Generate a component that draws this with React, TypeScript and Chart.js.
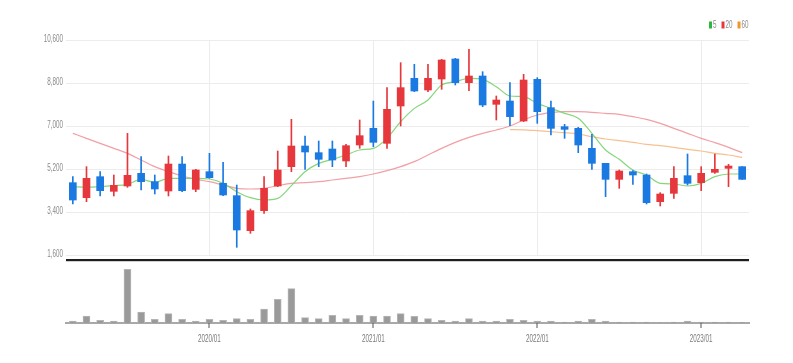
import React, { useEffect, useRef } from "react";
import { Chart, registerables } from "chart.js";

Chart.register(...registerables);

const months: string[] = [
  "2019/03", "2019/04", "2019/05", "2019/06", "2019/07", "2019/08", "2019/09", "2019/10", "2019/11", "2019/12",
  "2020/01", "2020/02", "2020/03", "2020/04", "2020/05", "2020/06", "2020/07", "2020/08", "2020/09", "2020/10", "2020/11", "2020/12",
  "2021/01", "2021/02", "2021/03", "2021/04", "2021/05", "2021/06", "2021/07", "2021/08", "2021/09", "2021/10", "2021/11", "2021/12",
  "2022/01", "2022/02", "2022/03", "2022/04", "2022/05", "2022/06", "2022/07", "2022/08", "2022/09", "2022/10", "2022/11", "2022/12",
  "2023/01", "2023/02", "2023/03", "2023/04",
];

const opens: number[] = [
  4628, 4000, 4879, 4265, 4488, 5019, 4670, 4279, 5409, 4349,
  5088, 4600, 4084, 2619, 3456, 4488, 5298, 6163, 5884, 6037, 5535, 6205,
  6902, 6274, 7837, 8995, 8507, 8967, 9805, 8814, 9093, 7907, 8046, 7209,
  8953, 7767, 6972, 6902, 6065, 5437, 4767, 5088, 4949, 3833, 4181, 4921,
  4628, 5060, 5228, 5298,
];
const highs: number[] = [
  4879, 5298, 5088, 4949, 6693, 5716, 4949, 5744, 5716, 5186,
  5856, 5479, 4530, 3526, 4879, 5953, 7279, 6581, 6372, 6372, 6233, 7251,
  8046, 8605, 9651, 9581, 9581, 9791, 9833, 10209, 9274, 8256, 8814, 9163,
  9023, 8046, 7070, 6944, 6651, 5437, 5158, 5130, 4991, 4209, 5298, 5828,
  5298, 5828, 5395, 5298,
];
const lows: number[] = [
  3735, 3833, 4070, 4070, 4433, 4321, 4154, 4070, 4251, 4251,
  4809, 4084, 1921, 2507, 3344, 4460, 5088, 5186, 5298, 5298, 5298, 6065,
  6135, 6065, 7000, 8437, 8437, 8535, 8716, 8479, 7809, 7251, 7014, 7181,
  7112, 6623, 6484, 5884, 5186, 4042, 4391, 4558, 3735, 3651, 3972, 4530,
  4293, 5019, 4460, 4767,
];
const closes: number[] = [
  3902, 4809, 4293, 4516, 4935, 4670, 4363, 5409, 4293, 5158,
  4837, 4112, 2647, 3456, 4391, 5158, 6163, 5912, 5605, 5577, 6177, 6595,
  6316, 7698, 8605, 8465, 8995, 9763, 8814, 9093, 7879, 8088, 7391, 8925,
  7600, 6902, 6860, 6205, 5437, 4767, 5116, 4949, 3791, 4153, 4809, 4600,
  5019, 5186, 5325, 4767,
];

const ma5: number[] = [
  4461, 4433, 4461, 4502, 4558, 4767, 4642, 4809, 4809, 4809,
  4781, 4600, 4251, 4000, 3902, 3972, 4502, 5088, 5437, 5605, 5786, 5995,
  6065, 6484, 7181, 7739, 8088, 8716, 8856, 8995, 8953, 8646, 8256, 8228,
  7949, 7739, 7530, 7321, 6693, 5995, 5605, 5158, 4949, 4600, 4572, 4488,
  4600, 4879, 4991, 4991,
];
const ma20: number[] = [
  6693, 6484, 6274, 6065, 5856, 5577, 5298, 5088, 4907, 4767,
  4670, 4530, 4391, 4363, 4391, 4502, 4600, 4628, 4670, 4739, 4809, 4879,
  4991, 5130, 5298, 5507, 5786, 6065, 6316, 6526, 6693, 6833, 7000, 7251,
  7460, 7558, 7600, 7600, 7572, 7530, 7488, 7390, 7279, 7112, 6902, 6693,
  6484, 6302, 6107, 5884,
];
const ma60: (number | null)[] = [
  null, null, null, null, null, null, null, null, null, null,
  null, null, null, null, null, null, null, null, null, null, null, null,
  null, null, null, null, null, null, null, null, null, null, 6850, 6840,
  6805, 6763, 6721, 6665, 6553, 6456, 6386, 6316, 6233, 6177, 6107, 6023,
  5954, 5856, 5786, 5688,
];

const volumes: number[] = [
  60000, 210000, 80000, 60000, 1610000, 330000, 110000, 280000, 110000, 60000,
  110000, 80000, 130000, 110000, 420000, 710000, 1030000, 160000, 130000, 230000, 130000, 230000,
  210000, 210000, 280000, 200000, 130000, 80000, 60000, 130000, 60000, 60000, 110000, 80000,
  60000, 60000, 30000, 60000, 110000, 60000, 30000, 30000, 30000, 10000, 30000, 60000,
  30000, 30000, 30000, 20000,
];

const yTicks: number[] = [1600, 3400, 5200, 7000, 8800, 10600];
const legendItems: string[] = ["5", "20", "60"];

const RED = "#e6383c";
const BLUE = "#1b7ae2";
const FONT = "10.5px 'Liberation Sans', Arial, sans-serif";
const SQX = 0.6;

function drawSquashed(ctx: CanvasRenderingContext2D, text: string, x: number, y: number, align: "left" | "right" | "center", color: string) {
  ctx.save();
  ctx.font = FONT;
  ctx.fillStyle = color;
  ctx.textBaseline = "middle";
  const w = ctx.measureText(text).width * SQX;
  let left = x;
  if (align === "right") left = x - w;
  if (align === "center") left = x - w / 2;
  ctx.translate(left, y);
  ctx.scale(SQX, 1);
  ctx.textAlign = "left";
  ctx.fillText(text, 0, 0);
  ctx.restore();
}

const isJan = (s: string) => s.endsWith("/01");

export default function App() {
  const priceRef = useRef<HTMLCanvasElement>(null);
  const volRef = useRef<HTMLCanvasElement>(null);

  useEffect(() => {
    document.body.style.margin = "0";
    const up = closes.map((c, i) => c >= opens[i]);
    const colors = up.map((u) => (u ? RED : BLUE));

    const pricePlugin = {
      id: "priceDecor",
      afterDraw(chart: any) {
        const ctx = chart.ctx as CanvasRenderingContext2D;
        const y = chart.scales.y;
        const area = chart.chartArea;
        yTicks.forEach((t) => {
          drawSquashed(ctx, t.toLocaleString("en-US"), 63, y.getPixelForValue(t) - 1, "right", "#8a8a8a");
        });
        ctx.save();
        ctx.fillStyle = "#1e1e1e";
        ctx.fillRect(area.left, 259, area.right - area.left, 2);
        ctx.fillStyle = "#cfcfcf";
        ctx.fillRect(area.left, 261, area.right - area.left, 1);
        ctx.restore();
        // legend
        const legColors = ["#2db83a", "#e8383c", "#f0952a"];
        let lx = 709;
        legendItems.forEach((txt, i) => {
          ctx.save();
          ctx.fillStyle = legColors[i];
          ctx.fillRect(lx, 21.5, 3, 7);
          ctx.restore();
          drawSquashed(ctx, txt, lx + 4, 25, "left", "#8a8a8a");
          ctx.save();
          ctx.font = FONT;
          const w = ctx.measureText(txt).width * SQX;
          ctx.restore();
          lx += 4 + w + 5;
        });
      },
    };

    const price = new Chart(priceRef.current!, {
      type: "bar",
      data: {
        labels: months,
        datasets: [
          {
            type: "bar",
            data: opens.map((o, i) => [o, closes[i]]) as any,
            backgroundColor: colors,
            barThickness: 7,
            grouped: false,
            borderSkipped: false,
          } as any,
          {
            type: "bar",
            data: lows.map((l, i) => [l, highs[i]]) as any,
            backgroundColor: colors,
            barThickness: 1,
            grouped: false,
            borderSkipped: false,
          } as any,
          {
            type: "line",
            data: ma5,
            borderColor: "rgba(120, 210, 110, 0.9)",
            borderWidth: 1.2,
            pointRadius: 0,
            cubicInterpolationMode: "monotone",
          } as any,
          {
            type: "line",
            data: ma20,
            borderColor: "rgba(240, 150, 155, 0.9)",
            borderWidth: 1.2,
            pointRadius: 0,
            cubicInterpolationMode: "monotone",
          } as any,
          {
            type: "line",
            data: ma60,
            borderColor: "rgba(245, 190, 140, 0.95)",
            borderWidth: 1.2,
            pointRadius: 0,
            cubicInterpolationMode: "monotone",
          } as any,
        ],
      },
      options: {
        responsive: false,
        animation: false,
        events: [],
        layout: { padding: { left: 0, right: 44, top: 40, bottom: 8 } },
        plugins: { legend: { display: false }, tooltip: { enabled: false } },
        scales: {
          x: {
            type: "category",
            offset: true,
            grid: {
              offset: false,
              drawTicks: false,
              color: (c: any) => (isJan(months[c.index] || "") ? "#ececec" : "rgba(0,0,0,0)"),
            },
            ticks: { display: false, autoSkip: false },
            border: { display: false },
            afterFit: (s: any) => {
              s.height = 0;
            },
          },
          y: {
            min: 1600,
            max: 10600,
            ticks: { display: false, stepSize: 1800 },
            grid: { color: "#ececec", drawTicks: false },
            border: { display: false },
            afterFit: (s: any) => {
              s.width = 66;
            },
          },
        },
      } as any,
      plugins: [pricePlugin],
    });

    const volPlugin = {
      id: "volDecor",
      afterDraw(chart: any) {
        const ctx = chart.ctx as CanvasRenderingContext2D;
        const x = chart.scales.x;
        const area = chart.chartArea;
        months.forEach((m, i) => {
          if (!isJan(m)) return;
          const px = x.getPixelForValue(i);
          ctx.save();
          ctx.fillStyle = "#555";
          ctx.fillRect(Math.round(px) - 0.5, area.bottom, 1, 5);
          ctx.restore();
          drawSquashed(ctx, m, px, area.bottom + 16.5, "center", "#7a7a7a");
        });
      },
    };

    const vol = new Chart(volRef.current!, {
      type: "bar",
      data: {
        labels: months,
        datasets: [
          {
            data: volumes,
            backgroundColor: "#9a9a9a",
            borderColor: "#b5b5b5",
            borderWidth: 1,
            barThickness: 7,
            borderSkipped: "bottom",
          },
        ],
      },
      options: {
        responsive: false,
        animation: false,
        events: [],
        layout: { padding: { left: 0, right: 44, top: 3, bottom: 0 } },
        plugins: { legend: { display: false }, tooltip: { enabled: false } },
        scales: {
          x: {
            type: "category",
            offset: true,
            grid: { display: false },
            ticks: { display: false, autoSkip: false },
            border: { display: true, color: "#a8a8a8", width: 2 },
            afterFit: (s: any) => {
              s.height = 40;
            },
          },
          y: {
            min: 0,
            max: 1710000,
            ticks: { display: false },
            grid: { display: false },
            border: { display: false },
            afterFit: (s: any) => {
              s.width = 66;
            },
          },
        },
      } as any,
      plugins: [volPlugin],
    });

    return () => {
      price.destroy();
      vol.destroy();
    };
  }, []);

  return (
    <div style={{ position: "relative", width: 793, height: 363, background: "#fff", fontFamily: "'Liberation Sans', Arial, sans-serif" }}>
      <canvas ref={priceRef} width={793} height={263} style={{ position: "absolute", left: 0, top: 0, width: 793, height: 263 }} />
      <canvas ref={volRef} width={793} height={100} style={{ position: "absolute", left: 0, top: 263, width: 793, height: 100 }} />
    </div>
  );
}
